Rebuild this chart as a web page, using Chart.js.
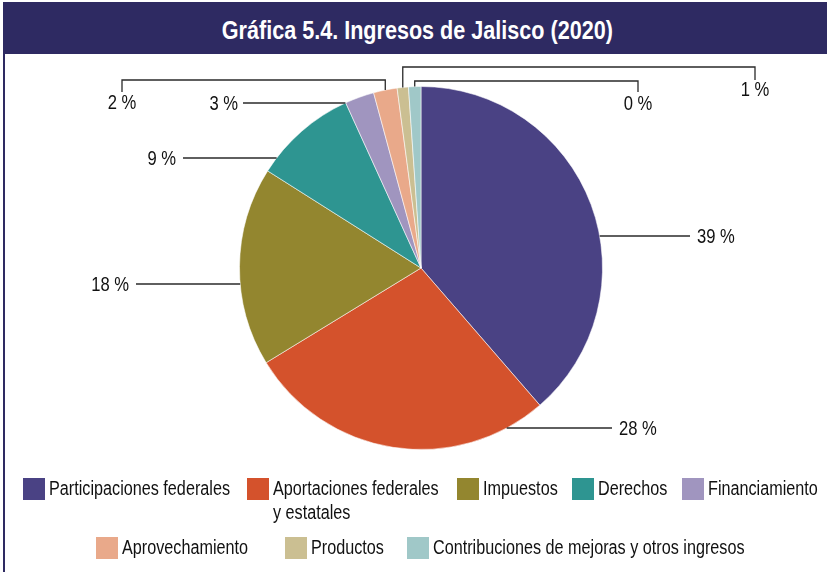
<!DOCTYPE html>
<html>
<head>
<meta charset="utf-8">
<script src="https://cdn.jsdelivr.net/npm/chart.js@4/dist/chart.umd.min.js"></script>
<style>
  html, body { margin: 0; padding: 0; background: #fff; }
  body { width: 827px; height: 572px; position: relative; overflow: hidden;
         font-family: "Liberation Sans", Arial, sans-serif; }
  #chart { position: absolute; left: 0; top: 0; }
  #titlebar { position: absolute; left: 3px; top: 2px; width: 824px; height: 52px;
              background: #2e2a62; }
  #titletext { position: absolute; left: 2px; top: 13px; width: 100%; text-align: center;
               color: #fff; font-weight: bold; font-size: 26px; line-height: 30px;
               transform: scaleX(0.83); transform-origin: 414px 0; }
  #frame { position: absolute; left: 3px; top: 54px; width: 1.5px; height: 518px; background: #2e2a62; }
  #legend { position: absolute; left: 0; top: 476px; width: 827px; font-size: 20px; color: #111; }
  .row { display: flex; justify-content: center; align-items: flex-start; padding-left: 14px; }
  .item { display: flex; align-items: flex-start; }
  .sw { width: 22px; height: 22px; flex: none; margin-right: 4px; margin-top: 2px; }
  .txt { display: inline-block; line-height: 24px; white-space: nowrap; transform: scaleX(0.81); transform-origin: 0 0; }
  .wrap { white-space: normal; width: 206px; }
</style>
</head>
<body>
<canvas id="chart" width="827" height="572"></canvas>
<div id="titlebar"><div id="titletext">Gráfica 5.4. Ingresos de Jalisco (2020)</div></div>
<div id="frame"></div>
<div id="legend"></div>
<script>
// ---- data ----
const categories = [
  "Participaciones federales",
  "Aportaciones federales y estatales",
  "Impuestos",
  "Derechos",
  "Financiamiento",
  "Aprovechamiento",
  "Productos",
  "Contribuciones de mejoras y otros ingresos"
];
const shares = [38.6, 27.6, 17.7, 9.2, 2.6, 2.1, 1.0, 1.1];
const percentLabels = ["39 %", "28 %", "18 %", "9 %", "3 %", "2 %", "1 %", "0 %"];
const colors = ["#4a4284", "#d4522c", "#93862f", "#2e9591", "#a095bf", "#e9a98a", "#cbbf92", "#a0c8c8"];

// ---- leader line layout (offsets relative to pie centre, px) ----
const leaderLayout = [
  { kind: "h", dy: -32, lineDx: 269, labelDx: 276 },
  { kind: "h", dy: 160, lineDx: 191, labelDx: 198 },
  { kind: "h", dy: 16, lineDx: -285, labelDx: -292 },
  { kind: "h", dy: -110, lineDx: -238, labelDx: -245 },
  { kind: "h", dy: -165, lineDx: -178, labelDx: -183 },
  { kind: "e", topDy: -188, endDx: -299, downDy: -176, labelDy: -165 },
  { kind: "e", topDy: -201, endDx: 334, downDy: -188, labelDy: -178 },
  { kind: "e", topDy: -187, endDx: 217, downDy: -176, labelDy: -164 }
];
const TEXT_SCALE = 0.83;

function drawLabel(ctx, text, x, y, align) {
  ctx.save();
  ctx.translate(x, y);
  ctx.scale(TEXT_SCALE, 1);
  ctx.textAlign = align;
  ctx.fillText(text, 0, 0);
  ctx.restore();
}

const leaderPlugin = {
  id: "leaders",
  afterDatasetsDraw(chart) {
    const ctx = chart.ctx;
    const meta = chart.getDatasetMeta(0);
    ctx.save();
    ctx.strokeStyle = "#2a2a2a";
    ctx.lineWidth = 1.3;
    ctx.fillStyle = "#111";
    ctx.font = '20px "Liberation Sans", Arial, sans-serif';
    ctx.textBaseline = "middle";
    meta.data.forEach((arc, i) => {
      const p = arc.getProps(["x", "y", "outerRadius", "startAngle", "endAngle"], true);
      const L = leaderLayout[i];
      const text = percentLabels[i];
      ctx.beginPath();
      if (L.kind === "h") {
        const y = p.y + L.dy;
        const side = Math.sign(L.lineDx);
        const ex = p.x + side * Math.sqrt(Math.max(0, p.outerRadius * p.outerRadius - L.dy * L.dy));
        ctx.moveTo(ex, y);
        ctx.lineTo(p.x + L.lineDx, y);
        ctx.stroke();
        drawLabel(ctx, text, p.x + L.labelDx, y + 1, side > 0 ? "left" : "right");
      } else {
        const mid = (p.startAngle + p.endAngle) / 2;
        const sx = p.x + Math.cos(mid) * p.outerRadius;
        const sy = p.y + Math.sin(mid) * p.outerRadius;
        ctx.moveTo(sx, sy);
        ctx.lineTo(sx, p.y + L.topDy);
        ctx.lineTo(p.x + L.endDx, p.y + L.topDy);
        ctx.lineTo(p.x + L.endDx, p.y + L.downDy);
        ctx.stroke();
        drawLabel(ctx, text, p.x + L.endDx, p.y + L.labelDy, "center");
      }
    });
    ctx.restore();
  }
};

new Chart(document.getElementById("chart"), {
  type: "pie",
  data: {
    labels: categories,
    datasets: [{
      data: shares,
      backgroundColor: colors,
      borderColor: "rgba(255,255,255,0.55)",
      borderWidth: 1
    }]
  },
  options: {
    responsive: false,
    animation: false,
    layout: { padding: { left: 239, right: 224, top: 86, bottom: 122 } },
    plugins: { legend: { display: false }, tooltip: { enabled: false } }
  },
  plugins: [leaderPlugin]
});

// ---- HTML legend ----
const legend = document.getElementById("legend");
const rows = [[0, 1, 2, 3, 4], [5, 6, 7]];
const rowGaps = [[0, 17, 17, 14, 15], [0, 37, 23]];
const LEG_SCALE = 0.81;
rows.forEach((r, ri) => {
  const row = document.createElement("div");
  row.className = "row";
  if (ri === 1) row.style.marginTop = "11px";
  legend.appendChild(row);
  r.forEach((i, k) => {
    const it = document.createElement("div");
    it.className = "item";
    it.style.marginLeft = rowGaps[ri][k] + "px";
    const sw = document.createElement("div");
    sw.className = "sw";
    sw.style.background = colors[i];
    const tx = document.createElement("div");
    tx.className = "txt" + (i === 1 ? " wrap" : "");
    tx.textContent = categories[i];
    it.appendChild(sw);
    it.appendChild(tx);
    row.appendChild(it);
    const w = tx.offsetWidth;
    tx.style.marginRight = (-(1 - LEG_SCALE) * w) + "px";
  });
});
</script>
</body>
</html>
